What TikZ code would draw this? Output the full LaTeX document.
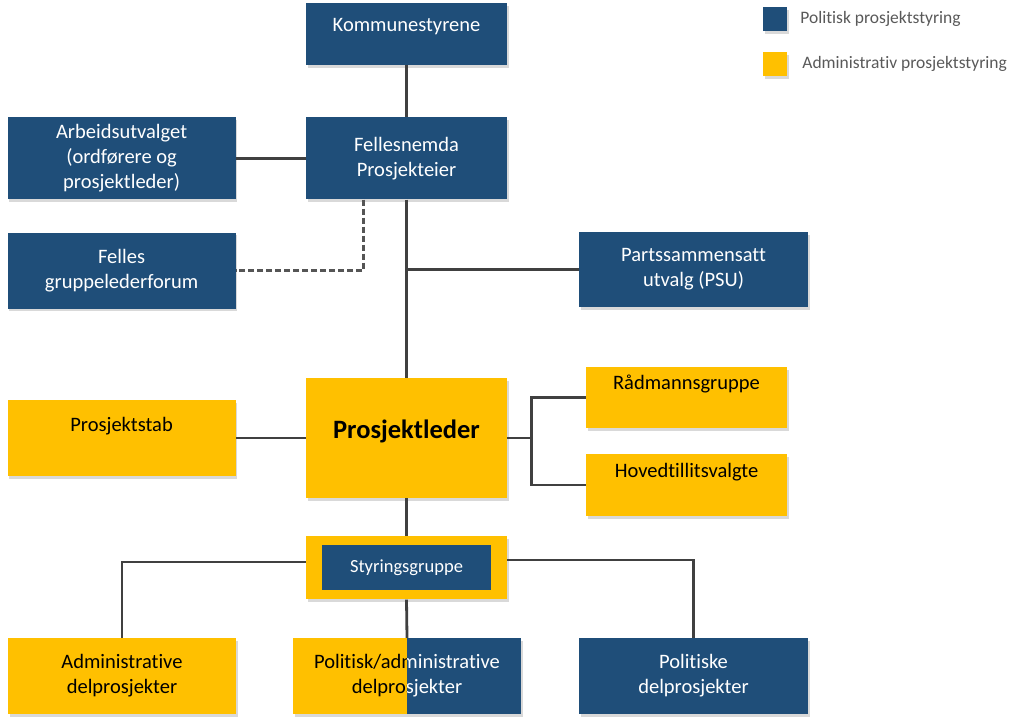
\documentclass[tikz,border=0pt]{standalone}
\usepackage{fontspec}
\setmainfont{Carlito}[Ligatures={NoCommon,NoRequired,NoContextual}]
\usepackage{xcolor}
\usepackage{tikz}
\usetikzlibrary{positioning, shadows}
\definecolor{polblue}{RGB}{31,78,121}
\definecolor{admyellow}{RGB}{255,192,0}
\definecolor{linegray}{RGB}{64,64,64}
\definecolor{dotgray}{RGB}{85,85,85}
\definecolor{keygray}{RGB}{89,89,89}

\begin{document}
\begin{tikzpicture}[x=1pt, y=-1pt, node distance=50pt]
  \tikzstyle{boxbase} = [rectangle, inner sep=0pt, align=center, font=\fontsize{20.5}{25}\selectfont]
  \tikzstyle{shadowed} = [drop shadow={shadow xshift=1.5pt, shadow yshift=-2.5pt, opacity=0.3}]
  \tikzstyle{polbox} = [boxbase, shadowed, fill=polblue, text=white]
  \tikzstyle{admbox} = [boxbase, shadowed, fill=admyellow, text=black]
  \tikzstyle{wide} = [minimum width=228pt, minimum height=76pt]
  \tikzstyle{conn} = [draw=linegray, line width=2.8pt]
  \tikzstyle{dotconn} = [draw=dotgray, line width=3pt, dash pattern=on 6pt off 3pt]
  \tikzstyle{keybox} = [rectangle, minimum size=24pt, inner sep=0pt, shadowed]
  \tikzstyle{keytext} = [anchor=west, inner sep=0pt, text=keygray, font=\fontsize{17.5}{21}\selectfont]

  \useasboundingbox (0,0) rectangle (1023,726);

  % political level
  \node[polbox, minimum width=201pt, minimum height=62pt] (komm) at (406.5,34) {};
  \node[boxbase, text=white] at ([yshift=7pt]komm.center) {Kommunestyrene};
  \node[polbox, minimum width=201pt, minimum height=82pt, below=52pt of komm] (felles) {Fellesnemda\\Prosjekteier};
  \node[polbox, minimum width=228pt, minimum height=82pt, left=70pt of felles] (arb) {Arbeidsutvalget\\(ordførere og\\prosjektleder)};
  \node[polbox, wide, below=33pt of arb] (forum) {Felles\\gruppelederforum};
  \node[polbox, minimum width=229pt, minimum height=75pt] (psu) at (693.5,269.5) {Partssammensatt\\utvalg (PSU)};

  % administrative level
  \node[admbox, minimum width=201pt, minimum height=120pt] (leder) at (406.5,438) {};
  \node[boxbase, font=\fontsize{26.5}{30}\selectfont\bfseries] at ([yshift=7pt]leder.center) {Prosjektleder};
  \node[admbox, wide, left=70pt of leder] (stab) {};
  \node[boxbase] at ([yshift=12pt]stab.center) {Prosjektstab};
  \node[admbox, minimum width=201pt, minimum height=61pt] (raad) at (686.5,397.5) {};
  \node[boxbase] at ([yshift=14pt]raad.center) {Rådmannsgruppe};
  \node[admbox, minimum width=201pt, minimum height=62pt] (hoved) at (686.5,485) {};
  \node[boxbase] at ([yshift=13pt]hoved.center) {Hovedtillitsvalgte};

  \node[admbox, minimum width=201pt, minimum height=63pt, below=38pt of leder] (styr) {};
  \node[boxbase, fill=polblue, text=white, minimum width=169pt, minimum height=45pt, font=\fontsize{18.5}{22}\selectfont] (styrtxt) at (styr.center) {Styringsgruppe};

  % sub-projects
  \node[admbox, wide] (adm) at (122,676) {Administrative\\delprosjekter};
  \node[admbox, wide] (polad) at (407,676) {Politisk/administrative\\delprosjekter};
  \begin{scope}
    \clip (polad.south) rectangle (polad.north east);
    \node[boxbase, wide, fill=polblue, text=white] at (polad.center) {Politisk/administrative\\delprosjekter};
  \end{scope}
  \node[polbox, minimum width=229pt, minimum height=76pt] (pol) at (693.5,676) {Politiske\\delprosjekter};

  % legend
  \node[keybox, fill=polblue] (keypol) at (775,19) {};
  \node[keytext, right=13pt of keypol] (keypoltxt) {Politisk prosjektstyring};
  \node[keybox, fill=admyellow] (keyadm) at (775,64) {};
  \node[keytext, right=15pt of keyadm] (keyadmtxt) {Administrativ prosjektstyring};

  % connectors
  \draw[conn] (komm) -- (felles);
  \draw[conn] (arb) -- (felles);
  \draw[dotconn] ([xshift=-43.5pt]felles.south) |- (forum.east);
  \draw[conn] (felles.south) -- (leder.north);
  \draw[conn] (felles.south |- psu.west) -- (psu.west);
  \draw[conn] (stab) -- (leder);
  \draw[conn] (raad.west) -| ([xshift=24pt]leder.east) |- (hoved.west);
  \draw[conn] (leder.east) -- ([xshift=24pt]leder.east);
  \draw[conn] (leder.south) -- (styr.north);
  \draw[conn] (adm.north) |- ([yshift=6pt]styr.west);
  \draw[conn] (pol.north) |- ([yshift=8pt]styr.east);
  \draw[conn] (styr.south) -- (polad.north);
\end{tikzpicture}
\end{document}
